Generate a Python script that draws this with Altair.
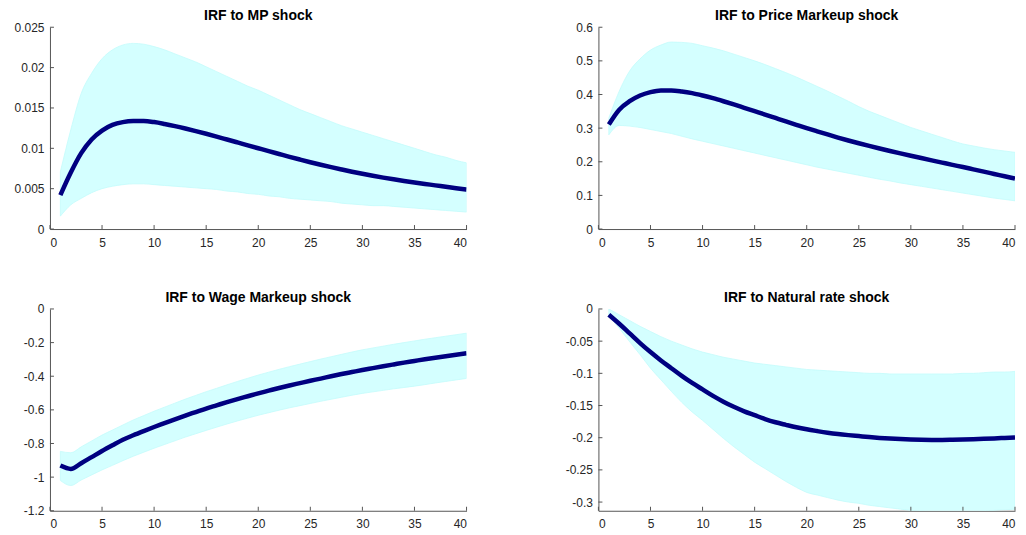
import altair as alt
import pandas as pd

steps = list(range(1, 41))

titles = ["IRF to MP shock", "IRF to Price Markeup shock",
          "IRF to Wage Markeup shock", "IRF to Natural rate shock"]

mp_mid = [0.0042, 0.0070, 0.0094, 0.0111, 0.0122, 0.01290, 0.01325, 0.01338, 0.01338, 0.01325,
          0.01302, 0.01275, 0.01245, 0.01213, 0.01180, 0.01145, 0.01109, 0.01073, 0.01037, 0.01001,
          0.00965, 0.00930, 0.00895, 0.00861, 0.00828, 0.00797, 0.00767, 0.00738, 0.00710, 0.00684,
          0.00660, 0.00637, 0.00616, 0.00596, 0.00577, 0.00559, 0.00541, 0.00523, 0.00505, 0.00488]
mp_hi = [0.0071, 0.0123, 0.0168, 0.0193, 0.0211, 0.0222, 0.0228, 0.0230, 0.0229, 0.0226,
         0.0222, 0.0217, 0.0212, 0.0207, 0.0201, 0.0195, 0.0189, 0.0183, 0.0177, 0.0172,
         0.0166, 0.0160, 0.0154, 0.0148, 0.0143, 0.0138, 0.0133, 0.0128, 0.0124, 0.0120,
         0.0116, 0.0112, 0.0108, 0.0104, 0.0100, 0.0096, 0.0092, 0.0089, 0.0085, 0.0082]
mp_lo = [0.0016, 0.0030, 0.0038, 0.0045, 0.0050, 0.0053, 0.0055, 0.0056, 0.0056, 0.0055,
         0.0054, 0.0053, 0.0052, 0.0051, 0.0050, 0.0049, 0.0047, 0.0046, 0.0044, 0.0043,
         0.0041, 0.0040, 0.0038, 0.0037, 0.0036, 0.0035, 0.0034, 0.0032, 0.0031, 0.0030,
         0.0029, 0.0029, 0.0028, 0.0027, 0.0026, 0.0025, 0.0024, 0.0023, 0.0022, 0.0021]

pm_mid = [0.311, 0.355, 0.380, 0.397, 0.407, 0.412, 0.412, 0.409, 0.404, 0.397,
          0.389, 0.380, 0.3705, 0.3605, 0.3505, 0.3405, 0.3303, 0.3201, 0.3100, 0.3000,
          0.2905, 0.2812, 0.2720, 0.2632, 0.2550, 0.2472, 0.2396, 0.2322, 0.2250, 0.2180,
          0.2111, 0.2043, 0.1976, 0.1909, 0.1843, 0.1775, 0.1707, 0.1638, 0.1569, 0.1500]
pm_hi = [0.330, 0.410, 0.470, 0.506, 0.532, 0.547, 0.556, 0.555, 0.552, 0.545,
         0.538, 0.530, 0.520, 0.510, 0.500, 0.489, 0.477, 0.465, 0.452, 0.438,
         0.424, 0.410, 0.395, 0.380, 0.364, 0.350, 0.338, 0.326, 0.314, 0.302,
         0.292, 0.282, 0.272, 0.262, 0.253, 0.247, 0.241, 0.236, 0.232, 0.228]
pm_lo = [0.280, 0.308, 0.306, 0.302, 0.296, 0.290, 0.284, 0.276, 0.268, 0.261,
         0.254, 0.247, 0.240, 0.233, 0.226, 0.219, 0.212, 0.205, 0.198, 0.191,
         0.184, 0.178, 0.172, 0.166, 0.160, 0.154, 0.148, 0.143, 0.137, 0.132,
         0.127, 0.122, 0.117, 0.112, 0.107, 0.102, 0.097, 0.092, 0.088, 0.084]

wm_mid = [-0.931, -0.951, -0.917, -0.881, -0.845, -0.811, -0.778, -0.751, -0.726, -0.702,
          -0.679, -0.656, -0.634, -0.613, -0.592, -0.573, -0.554, -0.536, -0.519, -0.502,
          -0.486, -0.470, -0.455, -0.441, -0.427, -0.414, -0.400, -0.387, -0.375, -0.363,
          -0.352, -0.341, -0.330, -0.319, -0.309, -0.299, -0.290, -0.281, -0.272, -0.263]
wm_hi = [-0.847, -0.855, -0.820, -0.785, -0.750, -0.720, -0.690, -0.660, -0.634, -0.608,
         -0.584, -0.560, -0.536, -0.514, -0.492, -0.472, -0.451, -0.431, -0.412, -0.393,
         -0.376, -0.359, -0.343, -0.328, -0.313, -0.298, -0.284, -0.270, -0.256, -0.243,
         -0.232, -0.221, -0.210, -0.200, -0.190, -0.180, -0.171, -0.162, -0.153, -0.144]
wm_lo = [-1.020, -1.050, -1.017, -0.987, -0.957, -0.930, -0.902, -0.876, -0.852, -0.828,
         -0.806, -0.784, -0.762, -0.742, -0.722, -0.703, -0.684, -0.666, -0.649, -0.632,
         -0.617, -0.602, -0.588, -0.575, -0.562, -0.549, -0.537, -0.525, -0.513, -0.502,
         -0.493, -0.484, -0.475, -0.467, -0.459, -0.450, -0.440, -0.431, -0.422, -0.413]

nr_mid = [-0.009, -0.023, -0.038, -0.053, -0.067, -0.080, -0.092, -0.104, -0.115, -0.125,
          -0.135, -0.144, -0.152, -0.159, -0.165, -0.171, -0.176, -0.180, -0.1838, -0.1870,
          -0.1897, -0.1922, -0.1943, -0.1960, -0.1975, -0.1990, -0.2003, -0.2014, -0.2022, -0.2028,
          -0.2032, -0.2034, -0.2034, -0.2032, -0.2029, -0.2024, -0.2018, -0.2011, -0.2003, -0.1995]
nr_hi = [0.000, -0.009, -0.018, -0.027, -0.035, -0.043, -0.050, -0.056, -0.062, -0.067,
         -0.071, -0.075, -0.078, -0.081, -0.084, -0.086, -0.088, -0.090, -0.092, -0.094,
         -0.095, -0.096, -0.097, -0.098, -0.099, -0.100, -0.100, -0.101, -0.101, -0.101,
         -0.101, -0.101, -0.101, -0.101, -0.100, -0.100, -0.099, -0.098, -0.098, -0.097]
nr_lo = [-0.011, -0.030, -0.051, -0.071, -0.092, -0.110, -0.128, -0.145, -0.160, -0.173,
         -0.187, -0.201, -0.214, -0.226, -0.238, -0.248, -0.258, -0.268, -0.277, -0.285,
         -0.289, -0.293, -0.297, -0.300, -0.302, -0.305, -0.307, -0.309, -0.311, -0.313,
         -0.314, -0.315, -0.316, -0.316, -0.316, -0.315, -0.314, -0.313, -0.312, -0.311]

x_ticks = [0, 5, 10, 15, 20, 25, 30, 35, 40]
y_ticks = [
    [0, 0.005, 0.01, 0.015, 0.02, 0.025],
    [0, 0.1, 0.2, 0.3, 0.4, 0.5, 0.6],
    [-1.2, -1, -0.8, -0.6, -0.4, -0.2, 0],
    [-0.3, -0.25, -0.2, -0.15, -0.1, -0.05, 0],
]
y_domains = [[0, 0.025], [0, 0.6], [-1.2, 0], [-0.3135, 0]]

series = [(mp_mid, mp_lo, mp_hi), (pm_mid, pm_lo, pm_hi),
          (wm_mid, wm_lo, wm_hi), (nr_mid, nr_lo, nr_hi)]

W, H = 417, 202
FONT = "Liberation Sans"
AXIS_COL = "#555555"


def panel(i):
    mid, lo, hi = series[i]
    df = pd.DataFrame({"t": steps, "mid": mid, "lo": lo, "hi": hi})
    xs = alt.Scale(domain=[0, 40], nice=False, zero=False)
    ys = alt.Scale(domain=y_domains[i], nice=False, zero=False)
    xa = alt.Axis(values=x_ticks, title=None, format="~g")
    ya = alt.Axis(values=y_ticks[i], title=None, format="~g",
                  labelExpr="replace(datum.label, '\u2212', '-')")
    base = alt.Chart(df)
    band = base.mark_area(color="#D4FFFF", stroke="#C4FBFB", strokeWidth=0.8,
                          interpolate="monotone", clip=True).encode(
        x=alt.X("t:Q", scale=xs, axis=xa),
        y=alt.Y("lo:Q", scale=ys, axis=ya),
        y2="hi:Q",
    )
    line = base.mark_line(color="#000080", strokeWidth=4.5, interpolate="monotone",
                          clip=True).encode(
        x=alt.X("t:Q", scale=xs, axis=xa), y=alt.Y("mid:Q", scale=ys, axis=ya)
    )
    yt = alt.Chart(pd.DataFrame({"v": y_ticks[i]})).mark_rule(
        color=AXIS_COL, strokeWidth=1).encode(
        y=alt.Y("v:Q", scale=ys, axis=ya), x=alt.value(0), x2=alt.value(4))
    xt = alt.Chart(pd.DataFrame({"v": x_ticks})).mark_rule(
        color=AXIS_COL, strokeWidth=1).encode(
        x=alt.X("v:Q", scale=xs, axis=xa), y=alt.value(H), y2=alt.value(H - 4))
    return alt.layer(band, line, yt, xt).properties(
        width=W, height=H,
        title=alt.TitleParams(titles[i], fontSize=14, fontWeight="bold", font=FONT,
                              color="#000000", offset=-2, frame="group"),
    )


chart = alt.concat(panel(0), panel(1), panel(2), panel(3), columns=2,
                   spacing={"row": 80, "column": 132}, bounds="flush").properties(
    padding={"left": 5, "top": 1, "right": 2, "bottom": 2},
).configure_view(stroke=None).configure_axis(
    grid=False, ticks=False, domainColor=AXIS_COL, domainWidth=1,
    labelFont=FONT, labelFontSize=12, labelColor="#262626", labelPadding=6,
).configure_axisX(labelPadding=8)

chart.save("out.html", embed_options={"renderer": "svg", "actions": False})
